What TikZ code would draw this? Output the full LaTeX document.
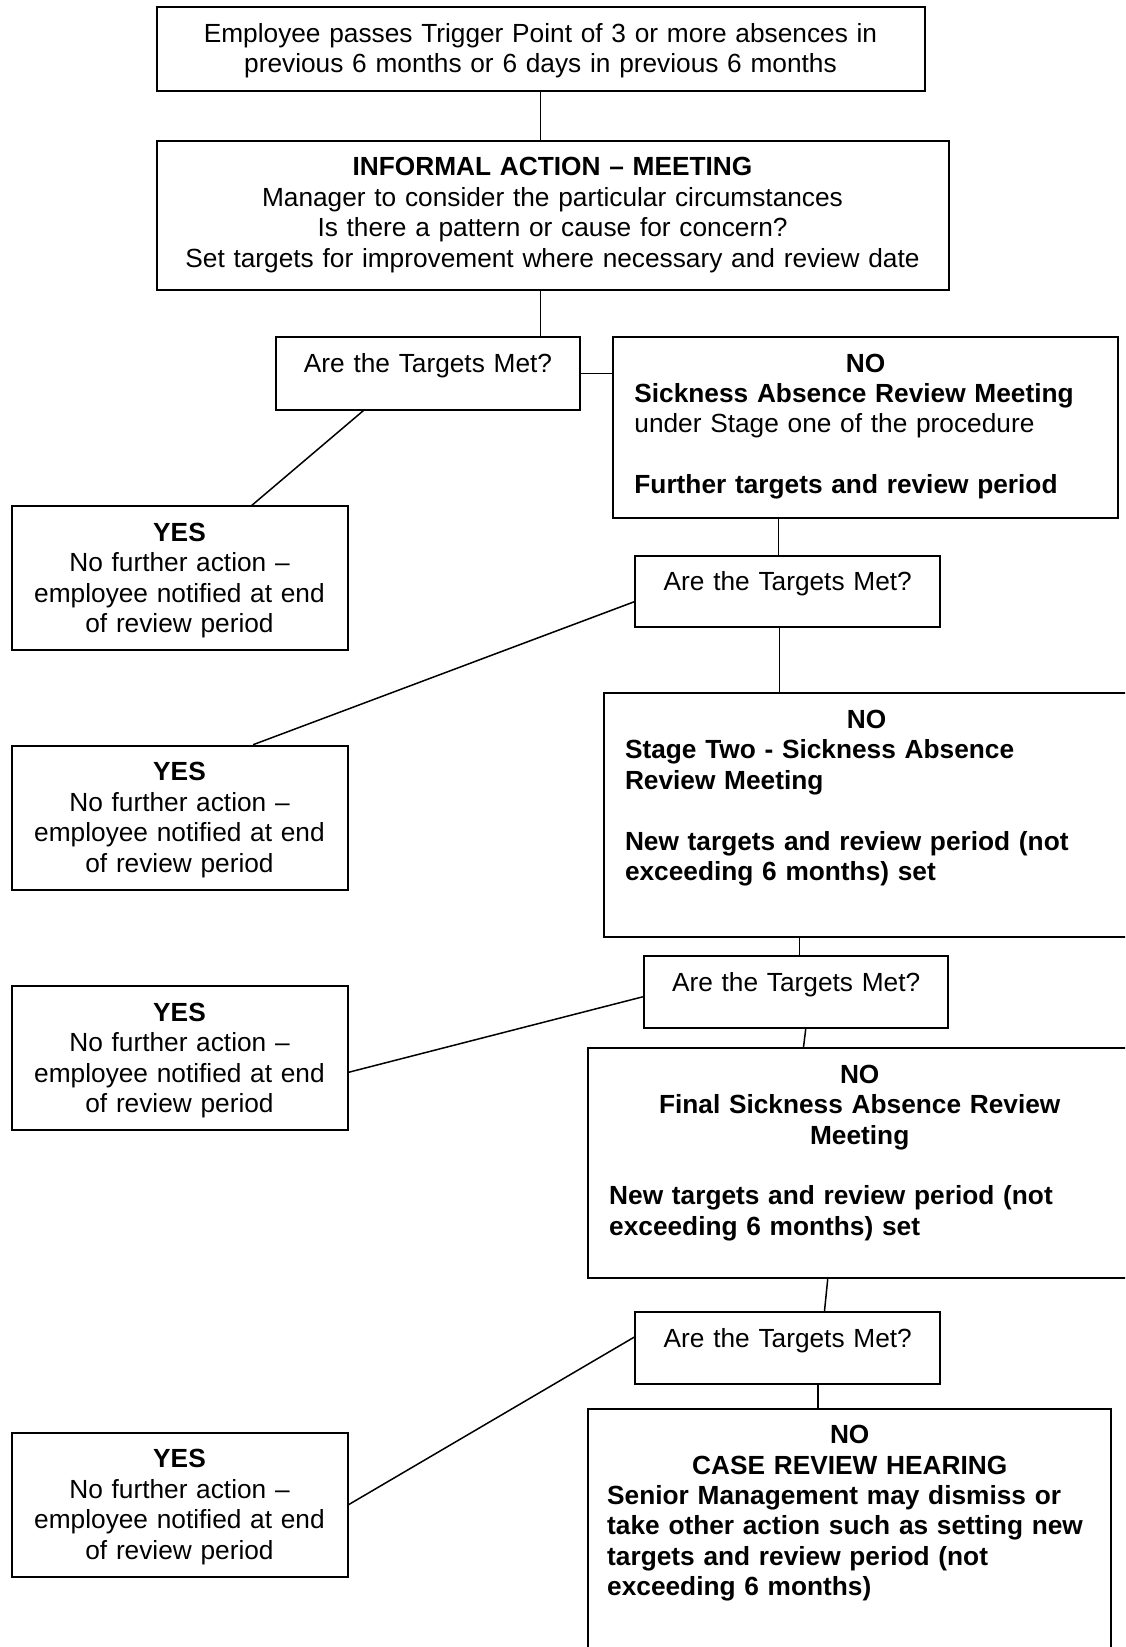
\documentclass[tikz,border=0pt]{standalone}
\usepackage{fontspec}
\setmainfont{Liberation Sans}
\usepackage{tikz}
\usetikzlibrary{positioning}

\newcommand{\flowfont}{\fontsize{13.13pt}{15.2pt}\selectfont}

\begin{document}
\begin{tikzpicture}[
    x=0.5pt, y=-0.5pt,
    box/.style={rectangle, draw, line width=1pt, anchor=north west, inner xsep=10.5pt, inner ysep=0pt, text height=17.6pt, font=\flowfont},
    midbox/.style={box, inner xsep=2pt, align=center},
    link/.style={line width=0.75pt}]
    \path[use as bounding box, clip] (0,0) rectangle (1125,1647);

    % start and informal stage
    \node[midbox, text width=380pt, text depth=24.4pt] (trig) at (155.5,6.3)
        {Employee passes Trigger Point of 3 or more absences in\\previous 6 months or 6 days in previous 6 months};
    \node[midbox, text width=392pt, text depth=57pt] (inf) at (155.5,139.7)
        {\textbf{INFORMAL ACTION – MEETING}\\Manager to consider the particular circumstances\\Is there a pattern or cause for concern?\\Set targets for improvement where necessary and review date};

    % questions
    \node[midbox, text width=147.8pt, text depth=18.7pt] (q1) at (275.2,336) {Are the Targets Met?};
    \node[midbox, text width=148.3pt, text depth=18.1pt] (q2) at (634.4,554.6) {Are the Targets Met?};
    \node[midbox, text width=148.3pt, text depth=18.6pt] (q3) at (642.8,954.8) {Are the Targets Met?};
    \node[midbox, text width=148.3pt, text depth=18.6pt] (q4) at (634.4,1311) {Are the Targets Met?};

    % yes branches
    \node[midbox, text width=164pt, text depth=54.4pt] (yes1) at (10.5,505.3)
        {\textbf{YES}\\No further action –\\employee notified at end\\of review period};
    \node[midbox, text width=164pt, text depth=54.4pt] (yes2) at (10.5,744.7)
        {\textbf{YES}\\No further action –\\employee notified at end\\of review period};
    \node[midbox, text width=164pt, text depth=54.4pt] (yes3) at (10.5,985.3)
        {\textbf{YES}\\No further action –\\employee notified at end\\of review period};
    \node[midbox, text width=164pt, text depth=54.4pt] (yes4) at (10.5,1431.7)
        {\textbf{YES}\\No further action –\\employee notified at end\\of review period};

    % no branches
    \node[box, text width=231.1pt, text depth=72.8pt] (no1) at (612.4,336)
        {\centering\textbf{NO}\par\raggedright
         \textbf{Sickness Absence Review Meeting}\\
         under Stage one of the procedure\\[15.2pt]
         \textbf{Further targets and review period}};
    \node[box, text width=241.5pt, text depth=104.2pt] (no2) at (603,692.3)
        {\centering\textbf{NO}\par\raggedright
         \textbf{Stage Two - Sickness Absence\\Review Meeting}\\[15.2pt]
         \textbf{New targets and review period (not\\exceeding 6 months) set}};
    \node[box, text width=250.5pt, text depth=97.4pt] (no3) at (587.2,1047.2)
        {\centering\textbf{NO\\Final Sickness Absence Review\\Meeting}\par\raggedright
         \mbox{}\\[-0.2pt]
         \textbf{New targets and review period (not\\exceeding 6 months) set}};
    \node[box, inner xsep=9.5pt, text width=242.5pt, text depth=112.4pt] (no4) at (587.2,1407.5)
        {\centering\textbf{NO\\CASE REVIEW HEARING}\par\raggedright
         \textbf{Senior Management may dismiss or\\take other action such as setting new\\targets and review period (not\\exceeding 6 months)}};

    % connectors
    \draw[link] (trig.south) -- (trig.south |- inf.north);
    \draw[link] (trig.south |- inf.south) -- (trig.south |- q1.north);
    \draw[link] (q1.east) -- (q1.east -| no1.west);
    \draw[link] ([xshift=-32.3pt]q1.south) -- ([xshift=36.2pt]yes1.north);
    \draw[link] ([xshift=-4.7pt]q2.north |- no1.south) -- ([xshift=-4.7pt]q2.north);
    \draw[link] ([yshift=-5.2pt]q2.west) -- ([xshift=36.8pt]yes2.north);
    \draw[link] ([xshift=-4.2pt]q2.south) -- ([xshift=-4.2pt]q2.south |- no2.north);
    \draw[link] ([xshift=1.6pt]q3.north |- no2.south) -- ([xshift=1.6pt]q3.north);
    \draw[link] ([yshift=-2.4pt]q3.west) -- ([yshift=-7pt]yes3.east);
    \draw[link] ([xshift=4.8pt]q3.south) -- ([xshift=3.7pt]q3.south |- no3.north);
    \draw[link] ([xshift=20pt]q4.north |- no3.south) -- ([xshift=18.4pt]q4.north);
    \draw[link] ([yshift=5.6pt]q4.west) -- (yes4.east);
    \draw[link] ([xshift=15.2pt]q4.south) -- ([xshift=15.2pt]q4.south |- no4.north);
\end{tikzpicture}
\end{document}
